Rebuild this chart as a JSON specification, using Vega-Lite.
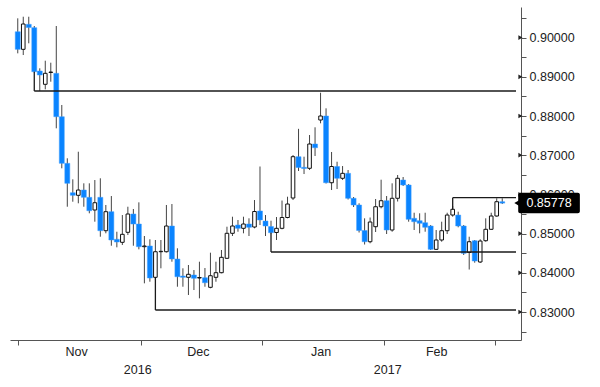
{
  "$schema": "https://vega.github.io/schema/vega-lite/v6.json",
  "width": 511,
  "height": 333,
  "autosize": {"type": "none"},
  "padding": {"left": 10, "top": 7, "right": 79, "bottom": 47},
  "background": "white",
  "config": {
    "view": {"stroke": null},
    "font": "Liberation Sans, Arial, sans-serif"
  },
  "resolve": {"axis": {"x": "independent", "y": "independent"}},
  "datasets": {
    "candles": [
      {"t":0,"o":0.90150,"h":0.90492,"l":0.89599,"c":0.89701},
      {"t":1,"o":0.89701,"h":0.90533,"l":0.89556,"c":0.90347},
      {"t":2,"o":0.90339,"h":0.90533,"l":0.89855,"c":0.90258},
      {"t":3,"o":0.90253,"h":0.90296,"l":0.89110,"c":0.89130},
      {"t":4,"o":0.89148,"h":0.89217,"l":0.88638,"c":0.89046},
      {"t":5,"o":0.88809,"h":0.89411,"l":0.88681,"c":0.89089},
      {"t":6,"o":0.89110,"h":0.89360,"l":0.88875,"c":0.89122},
      {"t":7,"o":0.89089,"h":0.90296,"l":0.87686,"c":0.87982},
      {"t":8,"o":0.87982,"h":0.88281,"l":0.86666,"c":0.86793},
      {"t":9,"o":0.86793,"h":0.86921,"l":0.85686,"c":0.86283},
      {"t":10,"o":0.86043,"h":0.86385,"l":0.85814,"c":0.85977},
      {"t":11,"o":0.85977,"h":0.87089,"l":0.85773,"c":0.86112},
      {"t":12,"o":0.86112,"h":0.86283,"l":0.85686,"c":0.85926},
      {"t":13,"o":0.85926,"h":0.86283,"l":0.85518,"c":0.85584},
      {"t":14,"o":0.85602,"h":0.86367,"l":0.85304,"c":0.85788},
      {"t":15,"o":0.85926,"h":0.86411,"l":0.84921,"c":0.85074},
      {"t":16,"o":0.85074,"h":0.85730,"l":0.85008,"c":0.85559},
      {"t":17,"o":0.85559,"h":0.85959,"l":0.84691,"c":0.84837},
      {"t":18,"o":0.84855,"h":0.85048,"l":0.84650,"c":0.84786},
      {"t":19,"o":0.84778,"h":0.85474,"l":0.84709,"c":0.84982},
      {"t":20,"o":0.85033,"h":0.85686,"l":0.84964,"c":0.85500},
      {"t":21,"o":0.85500,"h":0.85628,"l":0.84691,"c":0.85245},
      {"t":22,"o":0.85245,"h":0.85798,"l":0.84599,"c":0.84666},
      {"t":23,"o":0.84666,"h":0.84939,"l":0.83732,"c":0.84684},
      {"t":24,"o":0.84684,"h":0.84855,"l":0.83773,"c":0.83867},
      {"t":25,"o":0.83885,"h":0.84837,"l":0.83816,"c":0.84538},
      {"t":26,"o":0.84538,"h":0.84837,"l":0.84115,"c":0.84548},
      {"t":27,"o":0.84538,"h":0.85730,"l":0.84518,"c":0.85194},
      {"t":28,"o":0.85194,"h":0.85755,"l":0.84283,"c":0.84352},
      {"t":29,"o":0.84352,"h":0.84625,"l":0.83645,"c":0.83900},
      {"t":30,"o":0.83918,"h":0.84115,"l":0.83645,"c":0.83885},
      {"t":31,"o":0.83885,"h":0.84199,"l":0.83434,"c":0.83962},
      {"t":32,"o":0.83944,"h":0.84071,"l":0.83561,"c":0.83860},
      {"t":33,"o":0.83867,"h":0.84283,"l":0.83349,"c":0.83880},
      {"t":34,"o":0.83875,"h":0.84122,"l":0.83645,"c":0.83747},
      {"t":35,"o":0.83630,"h":0.84513,"l":0.83605,"c":0.83926},
      {"t":36,"o":0.83885,"h":0.84283,"l":0.83773,"c":0.84003},
      {"t":37,"o":0.84003,"h":0.84582,"l":0.83987,"c":0.84395},
      {"t":38,"o":0.84370,"h":0.85176,"l":0.84352,"c":0.85008},
      {"t":39,"o":0.85008,"h":0.85431,"l":0.84939,"c":0.85194},
      {"t":40,"o":0.85219,"h":0.85347,"l":0.85048,"c":0.85135},
      {"t":41,"o":0.85135,"h":0.85431,"l":0.85008,"c":0.85245},
      {"t":42,"o":0.85245,"h":0.85390,"l":0.84939,"c":0.85161},
      {"t":43,"o":0.85168,"h":0.85857,"l":0.85135,"c":0.85564},
      {"t":44,"o":0.85577,"h":0.86712,"l":0.85219,"c":0.85347},
      {"t":45,"o":0.85321,"h":0.85474,"l":0.84939,"c":0.85194},
      {"t":46,"o":0.85181,"h":0.85329,"l":0.85008,"c":0.85023},
      {"t":47,"o":0.85028,"h":0.85423,"l":0.84837,"c":0.85135},
      {"t":48,"o":0.85135,"h":0.85844,"l":0.85110,"c":0.85411},
      {"t":49,"o":0.85411,"h":0.85941,"l":0.85390,"c":0.85755},
      {"t":50,"o":0.85908,"h":0.87005,"l":0.85857,"c":0.86962},
      {"t":51,"o":0.86962,"h":0.87673,"l":0.86597,"c":0.86686},
      {"t":52,"o":0.86691,"h":0.86962,"l":0.86520,"c":0.86661},
      {"t":53,"o":0.86666,"h":0.87515,"l":0.86622,"c":0.87286},
      {"t":54,"o":0.87286,"h":0.87712,"l":0.86980,"c":0.87191},
      {"t":55,"o":0.87898,"h":0.88594,"l":0.87814,"c":0.88000},
      {"t":56,"o":0.88000,"h":0.88196,"l":0.86278,"c":0.86298},
      {"t":57,"o":0.86298,"h":0.87082,"l":0.86112,"c":0.86712},
      {"t":58,"o":0.86712,"h":0.86834,"l":0.86138,"c":0.86411},
      {"t":59,"o":0.86411,"h":0.86724,"l":0.86367,"c":0.86538},
      {"t":60,"o":0.86538,"h":0.86622,"l":0.85870,"c":0.85901},
      {"t":61,"o":0.85901,"h":0.85934,"l":0.85679,"c":0.85730},
      {"t":62,"o":0.85730,"h":0.85773,"l":0.85028,"c":0.85079},
      {"t":63,"o":0.85079,"h":0.85390,"l":0.84722,"c":0.84793},
      {"t":64,"o":0.84793,"h":0.85411,"l":0.84753,"c":0.85296},
      {"t":65,"o":0.85176,"h":0.85883,"l":0.85041,"c":0.85686},
      {"t":66,"o":0.85686,"h":0.86375,"l":0.85645,"c":0.85839},
      {"t":67,"o":0.85839,"h":0.85959,"l":0.84990,"c":0.85092},
      {"t":68,"o":0.85092,"h":0.86283,"l":0.85048,"c":0.85901},
      {"t":69,"o":0.85901,"h":0.86495,"l":0.85819,"c":0.86411},
      {"t":70,"o":0.86367,"h":0.86444,"l":0.86214,"c":0.86240},
      {"t":71,"o":0.86240,"h":0.86265,"l":0.85304,"c":0.85365},
      {"t":72,"o":0.85390,"h":0.85533,"l":0.85092,"c":0.85304},
      {"t":73,"o":0.85329,"h":0.85518,"l":0.85008,"c":0.85263},
      {"t":74,"o":0.85278,"h":0.85533,"l":0.85048,"c":0.85161},
      {"t":75,"o":0.85194,"h":0.85219,"l":0.84582,"c":0.84599},
      {"t":76,"o":0.84599,"h":0.85092,"l":0.84582,"c":0.84837},
      {"t":77,"o":0.84837,"h":0.85304,"l":0.84793,"c":0.85074},
      {"t":78,"o":0.85074,"h":0.85533,"l":0.84990,"c":0.85474},
      {"t":79,"o":0.85474,"h":0.85704,"l":0.85431,"c":0.85620},
      {"t":80,"o":0.85474,"h":0.85559,"l":0.85161,"c":0.85194},
      {"t":81,"o":0.85194,"h":0.85219,"l":0.84454,"c":0.84497},
      {"t":82,"o":0.84518,"h":0.84921,"l":0.84084,"c":0.84793},
      {"t":83,"o":0.84819,"h":0.84837,"l":0.84258,"c":0.84301},
      {"t":84,"o":0.84276,"h":0.84855,"l":0.84250,"c":0.84811},
      {"t":85,"o":0.84819,"h":0.85390,"l":0.84793,"c":0.85110},
      {"t":86,"o":0.85110,"h":0.85533,"l":0.85092,"c":0.85449},
      {"t":87,"o":0.85449,"h":0.85901,"l":0.85431,"c":0.85814},
      {"t":88,"o":0.85814,"h":0.85901,"l":0.85755,"c":0.85778}
    ],
    "levels": [
      {"t0":3,"lvl":0.88638,"from":0.89130},
      {"t0":25,"lvl":0.83051,"from":0.83885},
      {"t0":46,"lvl":0.84531,"from":0.85023},
      {"t0":79,"lvl":0.85916,"from":0.85620}
    ],
    "months": [
      {"lab":"Nov","t":10.7},
      {"lab":"Dec","t":32.8},
      {"lab":"Jan","t":55.1},
      {"lab":"Feb","t":76.1}
    ],
    "years": [
      {"lab":"2016","t":21.8},
      {"lab":"2017","t":67.2}
    ],
    "ticks": [
      {"v":0.83},{"v":0.84},{"v":0.85},{"v":0.86},{"v":0.87},{"v":0.88},{"v":0.89},{"v":0.90}
    ],
    "last": [
      {"v":0.85778,"txt":"0.85778","x0":90.9,"x1":102.1,"ylo":0.85518,"yhi":0.86043,"tx":96.5}
    ]
  },
  "layer": [
    {
      "data": {"name": "candles"},
      "mark": {"type": "rule", "color": "#444444", "strokeWidth": 1},
      "encoding": {
        "x": {"field": "t", "type": "quantitative", "scale": {"domain": [-0.5, 90.5], "nice": false, "zero": false},
              "axis": {"orient": "bottom", "title": null, "values": [0, 22.3, 44.4, 66.6, 86.6], "labels": false, "ticks": true, "tickSize": 5, "tickColor": "#555555", "domainColor": "#555555", "grid": false}},
        "y": {"field": "l", "type": "quantitative", "scale": {"domain": [0.82286, 0.90781], "nice": false, "zero": false},
              "axis": {"orient": "right", "title": null, "grid": false,
                       "values": [0.825,0.83,0.835,0.84,0.845,0.85,0.855,0.86,0.865,0.87,0.875,0.88,0.885,0.89,0.895,0.90,0.905],
                       "labelExpr": "abs(datum.value*100 - round(datum.value*100)) < 0.01 ? format(datum.value, '.5f') : ''",
                       "tickSize": 5, "tickColor": "#555555", "domainColor": "#555555",
                       "labelFontSize": 12.5, "labelFont": "Liberation Sans, Arial, sans-serif", "labelColor": "#222222", "labelPadding": 3}},
        "y2": {"field": "h"}
      }
    },
    {
      "data": {"name": "candles"},
      "transform": [{"filter": "datum.c < datum.o"}],
      "mark": {"type": "bar", "size": 5, "color": "#0a84ff", "stroke": "#3d9cff", "strokeWidth": 0.5},
      "encoding": {
        "x": {"field": "t", "type": "quantitative", "scale": {"domain": [-0.5, 90.5], "nice": false, "zero": false}, "axis": null},
        "y": {"field": "o", "type": "quantitative", "scale": {"domain": [0.82286, 0.90781], "nice": false, "zero": false}, "axis": null},
        "y2": {"field": "c"}
      }
    },
    {
      "data": {"name": "candles"},
      "transform": [{"filter": "datum.c >= datum.o"}],
      "mark": {"type": "bar", "size": 3.6, "fill": "white", "stroke": "#111111", "strokeWidth": 1},
      "encoding": {
        "x": {"field": "t", "type": "quantitative", "scale": {"domain": [-0.5, 90.5], "nice": false, "zero": false}, "axis": null},
        "y": {"field": "o", "type": "quantitative", "scale": {"domain": [0.82286, 0.90781], "nice": false, "zero": false}, "axis": null},
        "y2": {"field": "c"}
      }
    },
    {
      "data": {"name": "levels"},
      "mark": {"type": "rule", "color": "#1a1a1a", "strokeWidth": 1.3},
      "encoding": {
        "x": {"field": "t0", "type": "quantitative", "scale": {"domain": [-0.5, 90.5], "nice": false, "zero": false}, "axis": null},
        "x2": {"datum": 90.5},
        "y": {"field": "lvl", "type": "quantitative", "scale": {"domain": [0.82286, 0.90781], "nice": false, "zero": false}, "axis": null}
      }
    },
    {
      "data": {"name": "levels"},
      "mark": {"type": "rule", "color": "#1a1a1a", "strokeWidth": 1.3},
      "encoding": {
        "x": {"field": "t0", "type": "quantitative", "scale": {"domain": [-0.5, 90.5], "nice": false, "zero": false}, "axis": null},
        "y": {"field": "from", "type": "quantitative", "scale": {"domain": [0.82286, 0.90781], "nice": false, "zero": false}, "axis": null},
        "y2": {"field": "lvl"}
      }
    },
    {
      "data": {"name": "ticks"},
      "mark": {"type": "point", "shape": "triangle-right", "filled": true, "color": "#222222", "size": 22, "opacity": 1},
      "encoding": {
        "x": {"datum": 91.3, "type": "quantitative", "scale": {"domain": [-0.5, 90.5], "nice": false, "zero": false}, "axis": null},
        "y": {"field": "v", "type": "quantitative", "scale": {"domain": [0.82286, 0.90781], "nice": false, "zero": false}, "axis": null}
      }
    },
    {
      "data": {"name": "last"},
      "mark": {"type": "rect", "color": "black", "cornerRadius": 2},
      "encoding": {
        "x": {"field": "x0", "type": "quantitative", "scale": {"domain": [-0.5, 90.5], "nice": false, "zero": false}, "axis": null},
        "x2": {"field": "x1"},
        "y": {"field": "ylo", "type": "quantitative", "scale": {"domain": [0.82286, 0.90781], "nice": false, "zero": false}, "axis": null},
        "y2": {"field": "yhi"}
      }
    },
    {
      "data": {"name": "last"},
      "mark": {"type": "point", "shape": "triangle-left", "filled": true, "color": "black", "size": 60, "opacity": 1},
      "encoding": {
        "x": {"datum": 90.8, "type": "quantitative", "scale": {"domain": [-0.5, 90.5], "nice": false, "zero": false}, "axis": null},
        "y": {"field": "v", "type": "quantitative", "scale": {"domain": [0.82286, 0.90781], "nice": false, "zero": false}, "axis": null}
      }
    },
    {
      "data": {"name": "last"},
      "mark": {"type": "text", "color": "white", "fontSize": 12.5, "align": "center", "baseline": "middle"},
      "encoding": {
        "x": {"field": "tx", "type": "quantitative", "scale": {"domain": [-0.5, 90.5], "nice": false, "zero": false}, "axis": null},
        "y": {"field": "v", "type": "quantitative", "scale": {"domain": [0.82286, 0.90781], "nice": false, "zero": false}, "axis": null},
        "text": {"field": "txt"}
      }
    },
    {
      "data": {"name": "months"},
      "mark": {"type": "text", "color": "#222222", "fontSize": 12.5, "align": "center", "baseline": "middle"},
      "encoding": {
        "x": {"field": "t", "type": "quantitative", "scale": {"domain": [-0.5, 90.5], "nice": false, "zero": false}, "axis": null},
        "y": {"datum": 0.8198, "type": "quantitative", "scale": {"domain": [0.82286, 0.90781], "nice": false, "zero": false}, "axis": null},
        "text": {"field": "lab"}
      }
    },
    {
      "data": {"name": "years"},
      "mark": {"type": "text", "color": "#222222", "fontSize": 12.5, "align": "center", "baseline": "middle"},
      "encoding": {
        "x": {"field": "t", "type": "quantitative", "scale": {"domain": [-0.5, 90.5], "nice": false, "zero": false}, "axis": null},
        "y": {"datum": 0.8152, "type": "quantitative", "scale": {"domain": [0.82286, 0.90781], "nice": false, "zero": false}, "axis": null},
        "text": {"field": "lab"}
      }
    },
    {
      "mark": {"type": "rule", "color": "#999999", "strokeWidth": 1},
      "encoding": {
        "x": {"datum": 44.4, "type": "quantitative", "scale": {"domain": [-0.5, 90.5], "nice": false, "zero": false}, "axis": null},
        "y": {"datum": 0.8182, "type": "quantitative", "scale": {"domain": [0.82286, 0.90781], "nice": false, "zero": false}, "axis": null},
        "y2": {"datum": 0.8120}
      }
    }
  ]
}
